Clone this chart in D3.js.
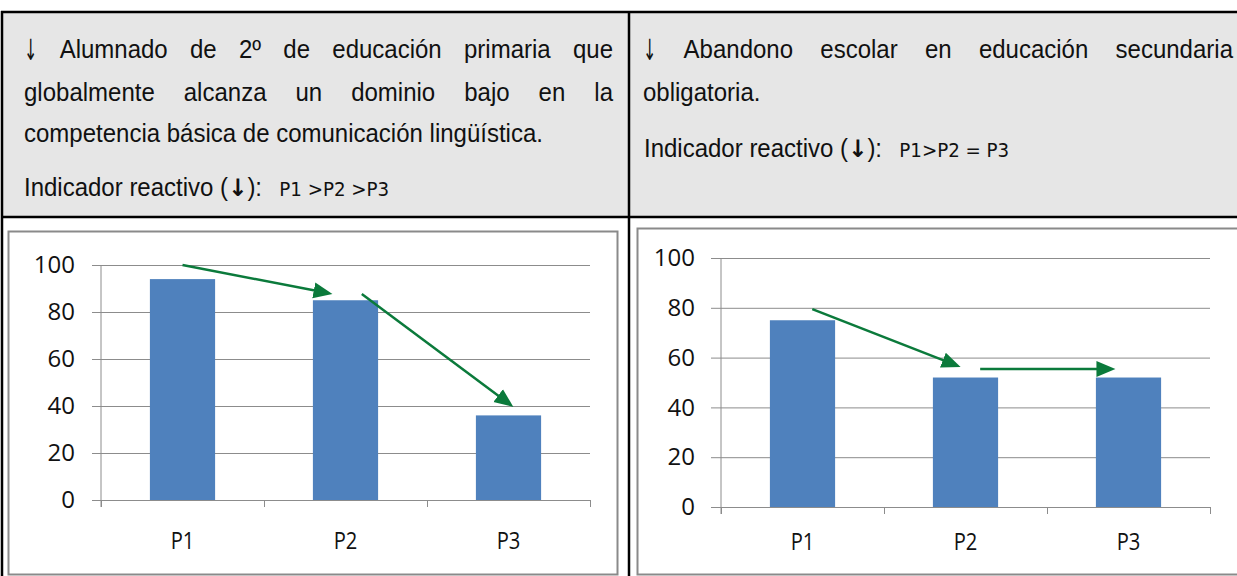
<!DOCTYPE html>
<html>
<head>
<meta charset="utf-8">
<script src="https://cdn.jsdelivr.net/npm/d3@7"></script>
<style>
body { margin: 0; background: #fff; }
svg { display: block; }
</style>
</head>
<body>
<svg width="1237" height="576"></svg>
<script>
// data
var categories = ['P1', 'P2', 'P3'];
var valuesPrimaria = [94, 85, 36];
var valuesAbandono = [75, 52, 52];
var yTicks = [0, 20, 40, 60, 80, 100];
// arrows: [from category position, from value, to category position, to value]
var arrowsPrimaria = [[0.50, 100, 1.42, 87.7], [1.60, 87.7, 2.53, 39.6]];
var arrowsAbandono = [[0.56, 79.5, 1.47, 56.2], [1.59, 55.4, 2.42, 55.4]];

var headLeft = [
    {words: ['↓', 'Alumnado', 'de', '2º', 'de', 'educación', 'primaria', 'que'], y: 58, justify: true},
    {words: ['globalmente', 'alcanza', 'un', 'dominio', 'bajo', 'en', 'la'], y: 101, justify: true},
    {words: ['competencia básica de comunicación lingüística.'], y: 142, justify: false}
];
var headRight = [
    {words: ['↓', 'Abandono', 'escolar', 'en', 'educación', 'secundaria'], y: 58, justify: true},
    {words: ['obligatoria.'], y: 101, justify: false}
];

var svg = d3.select('svg');
var headFont = "'Liberation Sans', Arial, sans-serif";
var arrowFont = "'DejaVu Sans', sans-serif";
var relFont = "'DejaVu Sans', Verdana, sans-serif";
var chartFont = "'Open Sans', sans-serif";
var squeeze = 0.96;
var green = '#0b7a3b';

// header background
svg.append('rect')
    .attr('x', 2).attr('y', 12)
    .attr('width', 1235).attr('height', 205)
    .style('fill', '#e6e6e6');

// chart frames
svg.append('rect')
    .attr('x', 8.5).attr('y', 231.5)
    .attr('width', 609).attr('height', 343)
    .style('fill', '#fff').style('stroke', '#8a8a8a').style('stroke-width', 2);
svg.append('rect')
    .attr('x', 637.5).attr('y', 228.5)
    .attr('width', 620).attr('height', 346)
    .style('fill', '#fff').style('stroke', '#8a8a8a').style('stroke-width', 2);

// table borders
var borders = [[1, 12, 1237, 12], [2, 11, 2, 576], [629, 11, 629, 576], [2, 217, 1237, 217]];
borders.forEach(function (b) {
    svg.append('line')
        .attr('x1', b[0]).attr('y1', b[1]).attr('x2', b[2]).attr('y2', b[3])
        .style('stroke', '#000').style('stroke-width', 2.5);
});

// one word of header text, slightly narrowed
function piece(g, txt, x, y, opts) {
    opts = opts || {};
    var t = g.append('text')
        .attr('x', x).attr('y', y)
        .style('font-family', opts.font || headFont)
        .style('font-size', (opts.size || 25) + 'px')
        .text(txt);
    var w = t.node().getComputedTextLength() * (opts.scale || squeeze);
    t.attr('textLength', w).attr('lengthAdjust', 'spacingAndGlyphs');
    return {node: t, w: w};
}

function drawHead(lines, x0, x1) {
    var g = svg.append('g').style('fill', '#111');
    lines.forEach(function (line) {
        var parts = line.words.map(function (w) {
            return w === '↓'
                ? piece(g, w, x0, line.y + 2, {font: arrowFont, size: 29, scale: 0.55})
                : piece(g, w, x0, line.y);
        });
        var gap = line.justify ? (x1 - x0 - d3.sum(parts, function (p) { return p.w; })) / (parts.length - 1) : 0;
        var x = x0;
        parts.forEach(function (p) {
            p.node.attr('x', x);
            x += p.w + gap;
        });
    });
}

// indicator line: one text, narrowed as a whole
function drawIndicator(x, y, rel) {
    var t = svg.append('text')
        .attr('transform', 'translate(' + x + ',' + y + ') scale(' + squeeze + ',1)')
        .style('font-family', headFont).style('font-size', '25px').style('fill', '#111')
        .style('white-space', 'pre');
    t.append('tspan').text('Indicador reactivo (');
    t.append('tspan').attr('dx', 0)
        .style('font-family', arrowFont).style('font-weight', 'bold').style('font-size', '24px')
        .text('↓');
    t.append('tspan').attr('dx', 0).text('):');
    t.append('tspan').attr('dx', 18)
        .style('font-family', relFont).style('font-size', '19px')
        .text(rel);
}

drawHead(headLeft, 24, 613);
drawHead(headRight, 643, 1233);
drawIndicator(24, 196, 'P1 >P2 >P3');
drawIndicator(644, 157, 'P1>P2 = P3');

// arrow marker
svg.append('defs').append('marker')
    .attr('id', 'head')
    .attr('markerUnits', 'userSpaceOnUse')
    .attr('markerWidth', 20).attr('markerHeight', 18)
    .attr('refX', 19).attr('refY', 9)
    .attr('orient', 'auto')
    .append('path')
    .attr('d', 'M0,1 L19,9 L0,17 Z')
    .style('fill', green);

function drawChart(values, arrows, box) {
    var g = svg.append('g');
    var x = d3.scaleBand().domain(categories).range([box.x0, box.x1])
        .paddingInner(0.6).paddingOuter(0.3);
    var xPos = d3.scaleLinear().domain([0, categories.length]).range([box.x0, box.x1]);
    var y = d3.scaleLinear().domain([0, 100]).range([box.yBot, box.yTop]);

    // gridlines + y labels
    var yAxis = g.append('g')
        .attr('transform', 'translate(' + box.x1 + ',0)')
        .call(d3.axisLeft(y).tickValues(yTicks)
            .tickSize(box.x1 - box.x0 + box.tick)
            .tickPadding(box.pad));
    yAxis.select('.domain').remove();
    yAxis.selectAll('line').style('stroke', '#8c8c8c');
    yAxis.selectAll('text')
        .style('font-family', chartFont).style('font-size', '24px').style('fill', '#111');

    // vertical axis line
    g.append('line')
        .attr('x1', box.x0).attr('x2', box.x0)
        .attr('y1', box.yTop).attr('y2', box.yBot + 7)
        .style('stroke', '#8c8c8c');

    // category ticks
    var xAxis = g.append('g')
        .attr('transform', 'translate(0,' + box.yBot + ')')
        .call(d3.axisBottom(xPos).tickValues(d3.range(categories.length + 1))
            .tickSize(7).tickSizeOuter(0).tickFormat(''));
    xAxis.select('.domain').remove();
    xAxis.selectAll('line').style('stroke', '#8c8c8c');

    var xLab = g.append('g')
        .attr('transform', 'translate(0,' + box.yBot + ')')
        .call(d3.axisBottom(x).tickSize(0).tickPadding(box.labelPad));
    xLab.select('.domain').remove();
    xLab.selectAll('text')
        .style('font-family', chartFont).style('font-size', '24px').style('fill', '#111')
        .each(function () {
            var t = d3.select(this);
            t.attr('textLength', this.getComputedTextLength() * 0.84).attr('lengthAdjust', 'spacingAndGlyphs');
        });

    // bars
    g.selectAll('.bar')
        .data(values)
        .enter()
        .append('rect')
        .attr('x', function (d, i) { return x(categories[i]); })
        .attr('y', function (d) { return y(d); })
        .attr('width', x.bandwidth())
        .attr('height', function (d) { return box.yBot - y(d); })
        .style('fill', '#4f81bd');

    // arrows
    arrows.forEach(function (a) {
        var x1 = xPos(a[0]), y1 = y(a[1]), x2 = xPos(a[2]), y2 = y(a[3]);
        var len = Math.hypot(x2 - x1, y2 - y1);
        var cut = 10 / len;
        g.append('line')
            .attr('x1', x1).attr('y1', y1)
            .attr('x2', x2 - (x2 - x1) * cut).attr('y2', y2 - (y2 - y1) * cut)
            .style('stroke', green).style('stroke-width', 2.5);
        g.append('path')
            .attr('d', 'M' + x1 + ',' + y1 + 'L' + x2 + ',' + y2)
            .style('stroke', 'none').style('fill', 'none')
            .attr('marker-end', 'url(#head)');
    });
}

drawChart(valuesPrimaria, arrowsPrimaria, {x0: 101, x1: 590, yTop: 265, yBot: 500, tick: 9, pad: 17, labelPad: 32});
drawChart(valuesAbandono, arrowsAbandono, {x0: 721, x1: 1210, yTop: 258, yBot: 507, tick: 10, pad: 16, labelPad: 26});
</script>
</body>
</html>
